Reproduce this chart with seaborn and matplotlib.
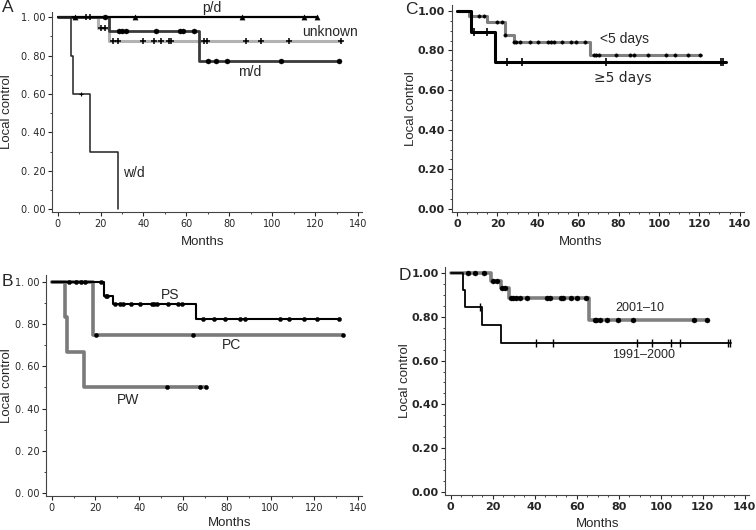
import numpy as np
import matplotlib
matplotlib.use("Agg")
import matplotlib.pyplot as plt
from matplotlib.ticker import MultipleLocator
import seaborn as sns

sns.set_style("ticks")
plt.rcParams['font.family'] = ['Liberation Sans', 'DejaVu Sans']

# ---------------- Panel A: differentiation ----------------
pd_t = [0, 121]
pd_s = [1.0, 1.0]
pd_c = [8, 36, 86, 115, 121]

md_t = [0, 24, 66, 131]
md_s = [1.0, 0.93, 0.77, 0.77]
md_c = [22, 28.6, 30, 31.7, 46, 57, 58.5, 63.6, 70, 74, 79, 104, 131]

unk_t = [0, 19, 24, 132]
unk_s = [1.0, 0.943, 0.878, 0.878]
unk_c = [13, 15, 20, 22, 26, 28, 40, 45, 48, 52, 53, 68, 69.5, 88, 95, 108, 132]

wd_t = [0, 6, 7, 15, 28]
wd_s = [1.0, 0.80, 0.60, 0.30, 0.0]
wd_c = [11]

# ---------------- Panel B: histology ----------------
ps_t = [0, 24, 28, 66, 131]
ps_s = [1.0, 0.932, 0.894, 0.822, 0.822]
ps_c = [8, 11, 13.4, 15.4, 22.4, 24.8, 25.4, 29, 31, 32.4, 36.2, 40.3, 45.7,
        46.7, 48.2, 53.3, 57.5, 59.4, 69.2, 74.1, 79.1, 86, 88.3, 104.2,
        108.5, 115.2, 121.3, 131.3]

pc_t = [0, 19, 133]
pc_s = [1.0, 0.75, 0.75]
pc_c = [20.2, 64.4, 133]

pw_t = [0, 6, 7, 15, 70.5]
pw_s = [1.0, 0.833, 0.667, 0.50, 0.50]
pw_c = [52.5, 68, 70.5]

# ---------------- Panel C: interval ----------------
lt5_t = [0, 6, 15, 24, 28, 66, 121]
lt5_s = [1.0, 0.975, 0.945, 0.88, 0.845, 0.776, 0.776]
lt5_c = [10.7, 13.2, 20, 22.3, 24, 28.1, 29.4, 31, 36, 40.1, 45, 46.4, 47.9,
         52.2, 56.6, 59.1, 63.6, 67.9, 69, 70.2, 78.6, 85.5, 87.7, 94.6,
         103.7, 107.8, 114.4, 120.5]

ge5_t = [0, 7, 19, 133]
ge5_s = [1.0, 0.891, 0.743, 0.743]
ge5_c = [8.3, 15, 25, 32, 74, 131, 132]

# ---------------- Panel D: period ----------------
p91_t = [0, 6, 7, 15, 24, 133.5]
p91_s = [1.0, 0.924, 0.847, 0.763, 0.679, 0.679]
p91_c = [13.8, 40.5, 48.7, 88.9, 95.9, 104.8, 109, 132, 133]

p01_t = [0, 19, 24, 28, 66, 122]
p01_s = [1.0, 0.966, 0.931, 0.885, 0.786, 0.786]
p01_c = [8.3, 11.7, 15.7, 20.2, 22.2, 24.4, 25.7, 28.6, 29.7, 31, 33.2, 36.5,
         46, 47.1, 52.4, 53.5, 57.5, 60.2, 64.6, 68.6, 69.4, 71, 74.6, 79.7,
         86.8, 115.9, 122.2]

yticks = [0.0, 0.2, 0.4, 0.6, 0.8, 1.0]
ylab_ab = ["0. 00", "0. 20", "0. 40", "0. 60", "0. 80", "1. 00"]
ylab_cd = ["0.00", "0.20", "0.40", "0.60", "0.80", "1.00"]
xticks = [0, 20, 40, 60, 80, 100, 120, 140]


def step_value(t, s, c):
    idx = np.searchsorted(np.asarray(t), np.asarray(c), side="right") - 1
    return np.asarray(s)[np.clip(idx, 0, len(s) - 1)]


def curve(ax, t, s, c, color, lw, marker, ms, mcolor="black", mew=1.0):
    sns.lineplot(x=t, y=s, ax=ax, color=color, linewidth=lw,
                 drawstyle="steps-post", zorder=2, estimator=None, sort=False)
    cy = step_value(t, s, c)
    if marker in ("+", "|"):
        ax.scatter(c, cy, marker=marker, s=ms, color=mcolor, linewidths=mew, zorder=3)
    else:
        sns.scatterplot(x=c, y=cy, ax=ax, marker=marker, s=ms, color=mcolor,
                        edgecolor=mcolor, linewidth=0.3, zorder=3, legend=False)


fig = plt.figure(figsize=(7.56, 5.30), dpi=100)

axA = fig.add_axes([0.0692, 0.5998, 0.410, 0.3785])
axC = fig.add_axes([0.5978, 0.5996, 0.3859, 0.3913])
axB = fig.add_axes([0.0611, 0.0634, 0.4183, 0.417])
axD = fig.add_axes([0.5892, 0.0657, 0.4014, 0.431])

LFS = 10

# Panel A
curve(axA, unk_t, unk_s, unk_c, "#b3b3b3", 2.2, "+", 24, mew=1.1)
curve(axA, md_t, md_s, md_c, "#3a3a3a", 2.0, "o", 13)
curve(axA, pd_t, pd_s, pd_c, "black", 1.6, "^", 14)
curve(axA, wd_t, wd_s, wd_c, "#222222", 1.1, "+", 12, mew=0.8)
axA.text(71.8, 1.047, "p/d", fontsize=LFS, ha="center", va="center")
axA.text(127, 0.925, "unknown", fontsize=LFS, ha="center", va="center")
axA.text(89.6, 0.716, "m/d", fontsize=LFS, ha="center", va="center")
axA.text(35.3, 0.19, "w/d", fontsize=LFS, ha="center", va="center")

# Panel B
curve(axB, pw_t, pw_s, pw_c, "#7a7a7a", 2.6, "o", 9)
curve(axB, pc_t, pc_s, pc_c, "#7a7a7a", 2.6, "o", 9)
curve(axB, ps_t, ps_s, ps_c, "black", 1.5, "o", 9)
axB.text(54, 0.937, "PS", fontsize=LFS, ha="center", va="center")
axB.text(82.2, 0.70, "PC", fontsize=LFS, ha="center", va="center")
axB.text(35, 0.44, "PW", fontsize=LFS, ha="center", va="center")

# Panel C
curve(axC, lt5_t, lt5_s, lt5_c, "#808080", 2.2, "o", 6)
curve(axC, ge5_t, ge5_s, ge5_c, "black", 2.2, "|", 36, mew=1.2)
axC.text(83, 0.86, "<5 days", fontsize=LFS, ha="center", va="center")
axC.text(82.2, 0.66, "≥5 days", fontsize=LFS, ha="center", va="center",
         family=["DejaVu Sans"])

# Panel D
curve(axD, p01_t, p01_s, p01_c, "#808080", 2.6, "o", 13)
curve(axD, p91_t, p91_s, p91_c, "black", 1.3, "|", 28, mew=1.0)
axD.text(90, 0.84, "2001\u201310", fontsize=9, ha="center", va="center")
axD.text(91.9, 0.626, "1991\u20132000", fontsize=9, ha="center", va="center")

panels = [
    (axA, ylab_ab, 10, 0.1, -0.146, 0.486, -0.149),
    (axB, ylab_ab, 10, 0.1, -0.124, 0.58, -0.12),
    (axC, ylab_cd, 5, 0.05, -0.141, 0.442, -0.144),
    (axD, ylab_cd, 5, 0.05, -0.133, 0.50, -0.126),
]
for ax, ylab, xminor, yminor, ylx, xlx, xly in panels:
    sns.despine(ax=ax)
    ax.set_xlim(-2.5, 142)
    ax.set_ylim(-0.016, 1.03)
    ax.set_yticks(yticks)
    ax.set_yticklabels(ylab)
    ax.set_xticks(xticks)
    ax.xaxis.set_minor_locator(MultipleLocator(xminor))
    ax.yaxis.set_minor_locator(MultipleLocator(yminor))
    ax.tick_params(axis="both", which="major", length=3, width=0.8, labelsize=7, pad=2)
    ax.tick_params(axis="both", which="minor", length=1.5, width=0.6)
    for sp in ("left", "bottom"):
        ax.spines[sp].set_linewidth(0.8)
        ax.spines[sp].set_color("#444444")
    ax.set_xlabel("Months", fontsize=9.5)
    ax.set_ylabel("Local control", fontsize=9.5)
    ax.yaxis.set_label_coords(ylx, 0.5)
    ax.xaxis.set_label_coords(xlx, xly)
    ax.xaxis.label.set_va("center")
    ax.yaxis.label.set_va("center")

for ax in (axA, axB):
    for lbl in ax.get_xticklabels() + ax.get_yticklabels():
        lbl.set_family(["DejaVu Sans"])

for ax in (axC, axD):
    for lbl in ax.get_xticklabels() + ax.get_yticklabels():
        lbl.set_fontweight("bold")
        lbl.set_family(["Liberation Sans Narrow", "DejaVu Sans"])
        lbl.set_fontsize(8)

fig.text(8 / 756, 1 - 8 / 530, "A", fontsize=12.5, ha="center", va="center")
fig.text(411 / 756, 1 - 10 / 530, "C", fontsize=12.5, ha="center", va="center")
fig.text(7 / 756, 1 - 282 / 530, "B", fontsize=12.5, ha="center", va="center")
fig.text(405 / 756, 1 - 275 / 530, "D", fontsize=12.5, ha="center", va="center")

fig.savefig("out.png", dpi=100)
